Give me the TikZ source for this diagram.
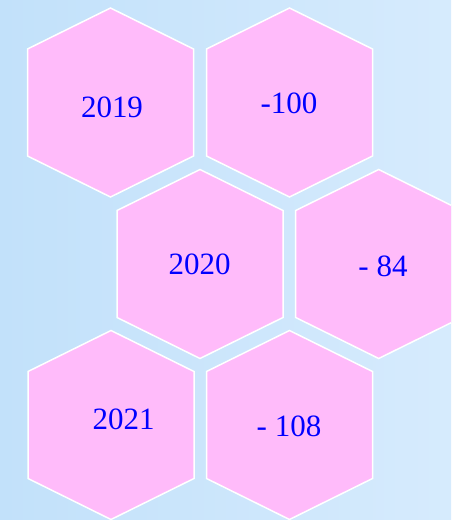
\documentclass[tikz,border=0pt]{standalone}
\usepackage{fontspec}
\setmainfont{Liberation Serif}
\definecolor{hexpink}{RGB}{255,187,250}
\definecolor{bgleft}{RGB}{194,225,250}
\definecolor{bgright}{RGB}{214,235,253}
\definecolor{txtblue}{RGB}{0,0,255}
\tikzset{
  hexcell/.style={fill=hexpink, draw=white, line width=1.5pt, line join=miter},
  numlabel/.style={anchor=base, text=txtblue, inner sep=0pt, font=\fontsize{31}{31}\selectfont}
}
\newcommand\hexcellat[2]{%
  \path[hexcell] (#1,#2) ++(0,-94.5) -- ++(83,41) -- ++(0,107) -- ++(-83,41) -- ++(-83,-41) -- ++(0,-107) -- cycle;}
\begin{document}
\begin{tikzpicture}[x=1pt,y=-1pt]
\useasboundingbox (0,0) rectangle (451,520);
\clip (0,0) rectangle (451,520);
\shade[shading angle=60, left color=bgleft, right color=bgright] (0,0) rectangle (451,520);
\hexcellat{110.5}{102.5}
\hexcellat{289.5}{102.5}
\hexcellat{200}{264}
\hexcellat{378.7}{264}
\hexcellat{111}{425}
\hexcellat{289.5}{425}
\node[numlabel] (t1) at (112,117) {2019};
\node[numlabel] (t2) at (289,113) {-100};
\node[numlabel] (t3) at (199.7,274) {2020};
\node[numlabel] (t4) at (383,276) {- 84};
\node[numlabel] (t5) at (123.7,429) {2021};
\node[numlabel] (t6) at (289,436) {- 108};
\end{tikzpicture}
\end{document}
